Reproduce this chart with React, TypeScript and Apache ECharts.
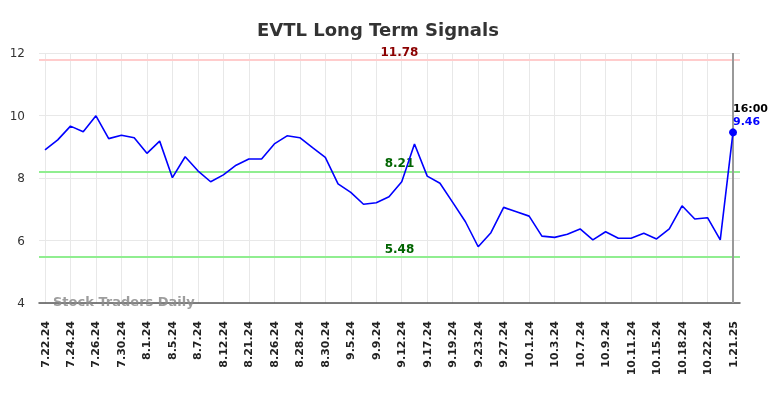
import React, { useEffect, useRef } from "react";
import * as echarts from "echarts";

const categories = [
  "7.22.24", "7.23.24", "7.24.24", "7.25.24", "7.26.24", "7.29.24", "7.30.24", "7.31.24",
  "8.1.24", "8.2.24", "8.5.24", "8.6.24", "8.7.24", "8.9.24", "8.12.24", "8.19.24",
  "8.21.24", "8.23.24", "8.26.24", "8.27.24", "8.28.24", "8.29.24", "8.30.24", "9.3.24",
  "9.5.24", "9.6.24", "9.9.24", "9.10.24", "9.12.24", "9.16.24", "9.17.24", "9.18.24",
  "9.19.24", "9.20.24", "9.23.24", "9.25.24", "9.27.24", "9.30.24", "10.1.24", "10.2.24",
  "10.3.24", "10.4.24", "10.7.24", "10.8.24", "10.9.24", "10.10.24", "10.11.24", "10.14.24",
  "10.15.24", "10.16.24", "10.18.24", "10.21.24", "10.22.24", "10.23.24", "1.21.25",
];

const prices = [
  8.9, 9.22, 9.66, 9.48, 9.99, 9.26, 9.37, 9.29, 8.79, 9.18,
  8.01, 8.68, 8.23, 7.88, 8.1, 8.41, 8.61, 8.61, 9.09, 9.35,
  9.29, 8.97, 8.66, 7.81, 7.54, 7.16, 7.21, 7.4, 7.88, 9.09,
  8.06, 7.83, 7.22, 6.6, 5.8, 6.25, 7.06, 6.92, 6.78, 6.14,
  6.1, 6.2, 6.37, 6.02, 6.28, 6.07, 6.07, 6.23, 6.05, 6.37,
  7.11, 6.69, 6.73, 6.02, 9.46,
];

const resistanceLevels = [11.78];
const supportLevels = [8.21, 5.48];
const yTicks = [4, 6, 8, 10, 12];
const lastTimeLabel = "16:00";
const titleText = "EVTL Long Term Signals";
const watermark = "Stock Traders Daily";

const FONT = "DejaVu Sans";

export default function App() {
  const ref = useRef<HTMLDivElement>(null);

  useEffect(() => {
    if (!ref.current) return;
    const chart = echarts.init(ref.current, undefined, { renderer: "svg" });
    const yMin = yTicks[0];
    const yMax = yTicks[yTicks.length - 1];
    const lastIdx = prices.length - 1;

    const levelLines = [
      ...resistanceLevels.map((v) => ({
        yAxis: v,
        lineStyle: { color: "#ffcccc", width: 2, type: "solid" },
        label: { color: "#8b0000" },
      })),
      ...supportLevels.map((v) => ({
        yAxis: v,
        lineStyle: { color: "#90ee90", width: 2, type: "solid" },
        label: { color: "#006400" },
      })),
    ];

    chart.setOption({
      animation: false,
      title: {
        text: titleText,
        left: 252,
        top: 15,
        textStyle: { fontFamily: FONT, fontSize: 18, fontWeight: "bold", color: "#333" },
      },
      grid: [
        { left: 39, right: 44, top: 53, bottom: 95 },
        { left: 45, right: 51, top: 53, bottom: 95 },
      ],
      xAxis: [
        {
          gridIndex: 0,
          type: "value",
          min: 0,
          max: 1,
          axisLine: { show: true, lineStyle: { color: "#555", width: 1.5 } },
          axisTick: { show: false },
          axisLabel: { show: false },
          splitLine: { show: false },
        },
        {
          gridIndex: 1,
          type: "category",
          data: categories,
          boundaryGap: false,
          axisLine: { show: false },
          axisTick: { show: false },
          axisLabel: {
            interval: 1,
            rotate: 90,
            margin: 18,
            fontFamily: FONT,
            fontSize: 11,
            fontWeight: "bold",
            color: "#222",
          },
          splitLine: { show: true, interval: 1, lineStyle: { color: "#e8e8e8", width: 1 } },
        },
      ],
      yAxis: [
        {
          gridIndex: 0,
          type: "value",
          min: yMin,
          max: yMax,
          interval: 2,
          axisLine: { show: false },
          axisTick: { show: false },
          axisLabel: { margin: 14, fontFamily: FONT, fontSize: 12, color: "#333" },
          splitLine: { lineStyle: { color: "#e8e8e8", width: 1 } },
        },
        {
          gridIndex: 1,
          type: "value",
          min: yMin,
          max: yMax,
          interval: 2,
          show: false,
          splitLine: { show: false },
        },
      ],
      series: [
        {
          type: "line",
          xAxisIndex: 0,
          yAxisIndex: 0,
          data: [],
          markLine: {
            silent: true,
            symbol: "none",
            label: {
              show: true,
              position: "insideMiddleTop",
              offset: [10, 0],
              distance: 2,
              fontFamily: FONT,
              fontSize: 12,
              fontWeight: "bold",
              formatter: (p: any) => p.value.toFixed(2),
            },
            data: levelLines,
          },
        },
        {
          type: "line",
          xAxisIndex: 1,
          yAxisIndex: 1,
          data: prices.map((v, i) =>
            i === lastIdx
              ? {
                  value: v,
                  symbol: "circle",
                  symbolSize: 8,
                  label: {
                    show: true,
                    position: [4, -26],
                    formatter: () => `{t|${lastTimeLabel}}\n{v|${v.toFixed(2)}}`,
                    rich: {
                      t: { fontFamily: FONT, fontSize: 11, fontWeight: "bold", color: "#000", lineHeight: 13 },
                      v: { fontFamily: FONT, fontSize: 11, fontWeight: "bold", color: "#0000ff", lineHeight: 13 },
                    },
                  },
                }
              : { value: v, symbol: "none" }
          ),
          showSymbol: true,
          itemStyle: { color: "#0000ff" },
          lineStyle: { color: "#0000ff", width: 1.6 },
          z: 5,
          markLine: {
            silent: true,
            symbol: "none",
            label: { show: false },
            lineStyle: { color: "#999", width: 2, type: "solid" },
            data: [{ xAxis: categories[lastIdx] }],
          },
        },
      ],
      graphic: [
        {
          type: "text",
          left: 53,
          top: 295,
          z: 10,
          style: {
            text: watermark,
            fontFamily: FONT,
            fontSize: 13,
            fontWeight: "bold",
            fill: "rgba(140,140,140,0.85)",
          },
        },
      ],
    });
    return () => chart.dispose();
  }, []);

  return (
    <div
      ref={ref}
      style={{ position: "fixed", left: 0, top: 0, width: 784, height: 398 }}
    />
  );
}
